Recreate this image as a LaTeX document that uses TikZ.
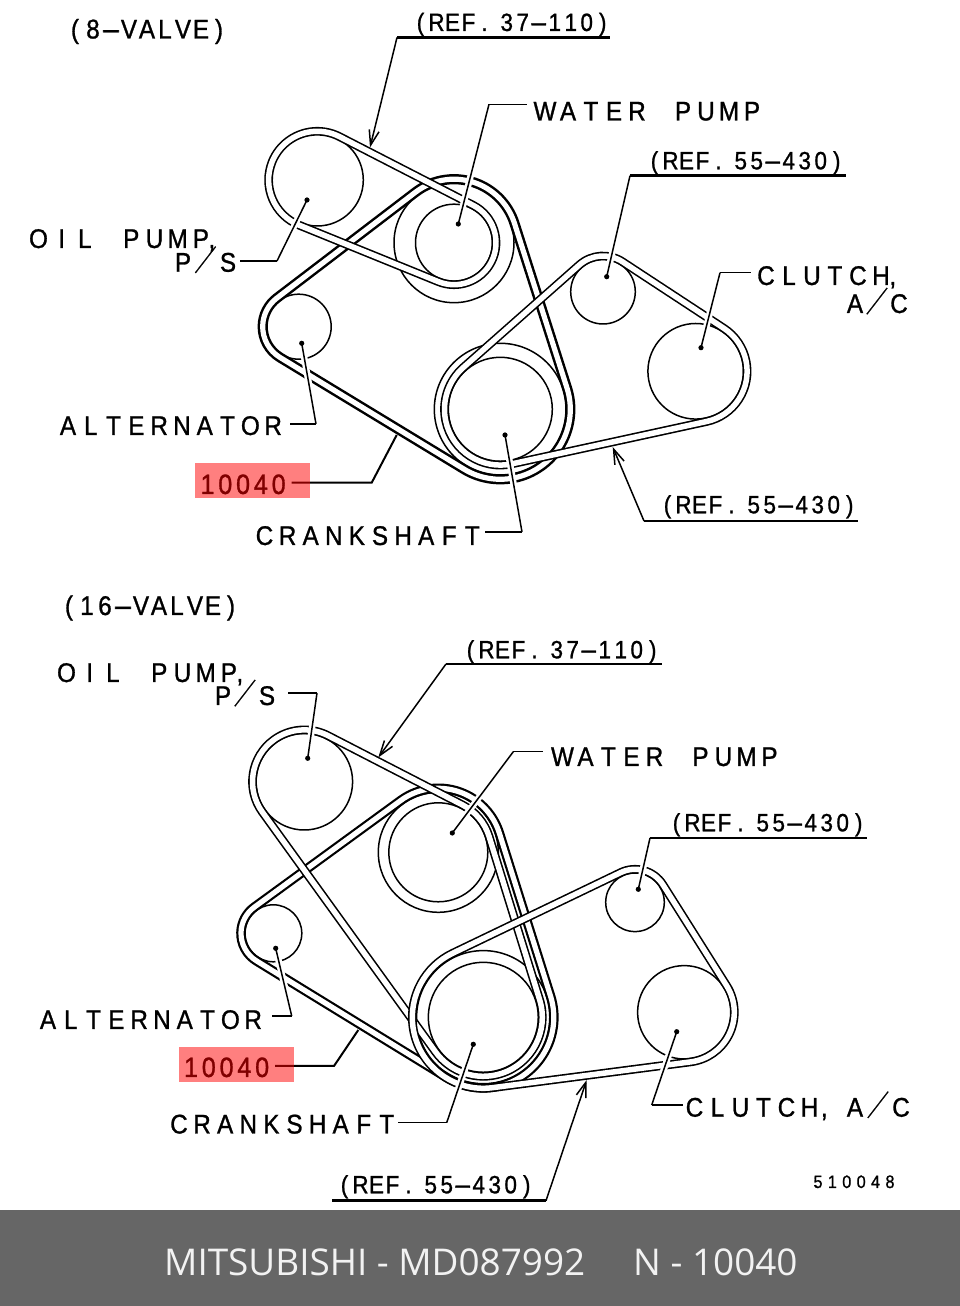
\documentclass[tikz,border=0pt]{standalone}
\usepackage{fontspec}
\setmainfont{Liberation Sans}[FakeStretch=0.9,FakeBold=1]
\newfontfamily\footfont{Open Sans}
\usetikzlibrary{arrows.meta}
\newlength\cellw
\def\mt#1{\mtloop#1\relax}
\def\mtloop#1{\ifx\relax#1\else\makebox[\cellw][c]{#1}\expandafter\mtloop\fi}
\newcommand\wh{\scalebox{2.6}[1]{-}}
\newcommand\sla{\makebox[0pt]{\smash{\raisebox{-4pt}{\rotatebox[origin=c]{-33}{\scalebox{0.55}[1.65]{/}}}}}}
\def\fs#1{\fontsize{#1}{#1}\selectfont}
\newcommand\loadp[2]{\def\tmpp##1,##2,##3;{\expandafter\def\csname px#1\endcsname{##1}\expandafter\def\csname py#1\endcsname{##2}\expandafter\def\csname pr#1\endcsname{##3}}\tmpp#2;}
\newcommand\nang[7]{\pgfmathsetmacro#1{atan2((#3)-(#6),(#5)-(#2))+acos(((#4)-(#7))/veclen((#5)-(#2),(#6)-(#3)))}}
\newcommand\swp[3]{\pgfmathsetmacro#1{mod((#2)-(#3)+720,360)}}
\newcommand\beltb[3]{\loadp{a}{#2}\loadp{b}{#3}%
 \nang\nab\pxa\pya\pra\pxb\pyb\prb \nang\nba\pxb\pyb\prb\pxa\pya\pra
 \swp\sa\nba\nab \swp\sb\nab\nba
 \draw[#1] ({\pxa+\pra*cos(\nba)},{1306-\pya+\pra*sin(\nba)}) arc[start angle=\nba,delta angle=-\sa,radius=\pra pt]
  -- ({\pxb+\prb*cos(\nab)},{1306-\pyb+\prb*sin(\nab)}) arc[start angle=\nab,delta angle=-\sb,radius=\prb pt] -- cycle;}
\newcommand\beltc[4]{\loadp{a}{#2}\loadp{b}{#3}\loadp{c}{#4}%
 \nang\nab\pxa\pya\pra\pxb\pyb\prb \nang\nbc\pxb\pyb\prb\pxc\pyc\prc \nang\nca\pxc\pyc\prc\pxa\pya\pra
 \swp\sa\nca\nab \swp\sb\nab\nbc \swp\sc\nbc\nca
 \draw[#1] ({\pxa+\pra*cos(\nca)},{1306-\pya+\pra*sin(\nca)}) arc[start angle=\nca,delta angle=-\sa,radius=\pra pt]
  -- ({\pxb+\prb*cos(\nab)},{1306-\pyb+\prb*sin(\nab)}) arc[start angle=\nab,delta angle=-\sb,radius=\prb pt]
  -- ({\pxc+\prc*cos(\nbc)},{1306-\pyc+\prc*sin(\nbc)}) arc[start angle=\nbc,delta angle=-\sc,radius=\prc pt] -- cycle;}
\newcommand\lab[5]{\node[lbl] (#1) at ({#2-0.5*#4},#3) {\setlength\cellw{#4pt}#5};}
\tikzset{
 pulley/.style={draw=black,line width=1.5pt},
 thinbelt/.style={draw=black,line width=1.6pt,double=white,double distance=5.5pt,line join=round},
 mainbelt/.style={draw=black,line width=2.5pt,double=white,double distance=5.2pt,line join=round},
 mainbeltb/.style={draw=black,line width=2.2pt,double=white,double distance=5.2pt,line join=round},
 lead/.style={draw=black,line width=1.5pt,preaction={draw=white,line width=6.5pt}},
 plainlead/.style={draw=black,line width=2pt},
 refline/.style={draw=black,line width=2.4pt},
 reflead/.style={draw=black,line width=1.5pt,-{Straight Barb[length=15pt,width=10pt,line width=1.5pt]}},
 lbl/.style={anchor=base west,inner sep=0pt,outer sep=0pt,font=\fs{27}},
 hot/.style={fill=red,fill opacity=0.5,draw=none},
 dotm/.style={fill=black,draw=none}
}
\begin{document}
\begin{tikzpicture}[x=1pt,y=1pt]
\useasboundingbox (0,0) rectangle (960,1306);
\fill[white] (0,0) rectangle (960,1306);
\fill[fill={rgb,255:red,102;green,102;blue,102}] (0,0) rectangle (960,96);
% ---- pulleys, belts
\begin{scope}[shift={(0,1306)},yscale=-1]
 \draw[pulley] (317.3,180) circle[radius=46pt];
 \draw[pulley] (454,242.7) circle[radius=38.5pt];
 \draw[pulley] (454,242.7) circle[radius=60pt];
 \draw[pulley] (298.7,326.7) circle[radius=32.5pt];
 \draw[pulley] (500.3,409.3) circle[radius=52pt];
 \draw[pulley] (500.3,409.3) circle[radius=66pt];
 \draw[pulley] (603,291.7) circle[radius=32.3pt];
 \draw[pulley] (695.7,371.3) circle[radius=47.8pt];
 \draw[pulley] (304.3,781.7) circle[radius=48.3pt];
 \draw[pulley] (438.3,852.3) circle[radius=49.5pt];
 \draw[pulley] (438.3,852.3) circle[radius=60pt];
 \draw[pulley] (273.3,933.3) circle[radius=28.5pt];
 \draw[pulley] (483.3,1017.3) circle[radius=55pt];
 \draw[pulley] (483.3,1017.3) circle[radius=66.7pt];
 \draw[pulley] (635,902.3) circle[radius=29.3pt];
 \draw[pulley] (684.3,1012.3) circle[radius=46.7pt];
\end{scope}
\beltc{mainbelt}{454,242.7,63.5}{500.3,409.3,70}{298.7,326.7,36}
\beltb{thinbelt}{317.3,180,48.7}{454,242.7,42}
\beltc{thinbelt}{500.3,409.3,55.8}{603,291.7,35.7}{695.7,371.3,51.4}
\beltc{mainbeltb}{438.3,852.3,64}{483.3,1017.3,70.5}{273.3,933.3,32.3}
\beltc{thinbelt}{304.3,781.7,51.8}{438.3,852.3,53.2}{483.3,1017.3,59}
\beltc{thinbelt}{483.3,1017.3,71}{635,902.3,33}{684.3,1012.3,50}
\begin{scope}[shift={(0,1306)},yscale=-1]
 % ---- leader coordinates, upper drawing
 \coordinate (d1) at (307,200); \coordinate (e1) at (277,261); \coordinate (f1) at (240,261);
 \coordinate (d2) at (458.3,224); \coordinate (e2) at (489,104.3); \coordinate (f2) at (527,104.3);
 \coordinate (d3) at (606.7,276.7); \coordinate (e3) at (630,175.7); \coordinate (f3) at (846,175.7);
 \coordinate (d4) at (701,347.7); \coordinate (e4) at (720,272.7); \coordinate (f4) at (751,272.7);
 \coordinate (d5) at (301.7,343.3); \coordinate (e5) at (316,424); \coordinate (f5) at (290,424);
 \coordinate (d6) at (505,435); \coordinate (e6) at (522,532); \coordinate (f6) at (485,532);
 \coordinate (t7) at (370,147.5); \coordinate (e7) at (397,37.5); \coordinate (f7) at (610,37.5);
 \coordinate (t8) at (612.7,447); \coordinate (e8) at (644,521); \coordinate (f8) at (858,521);
 \coordinate (t9) at (396.7,435); \coordinate (e9) at (371.7,482.7); \coordinate (f9) at (291.7,482.7);
 % ---- leader coordinates, lower drawing
 \coordinate (d11) at (307.7,758.3); \coordinate (e11) at (317,693); \coordinate (f11) at (288,693);
 \coordinate (d12) at (452.3,833); \coordinate (e12) at (513.3,751.7); \coordinate (f12) at (543.3,751.7);
 \coordinate (d13) at (638.3,889.3); \coordinate (e13) at (650,838); \coordinate (f13) at (867,838);
 \coordinate (d14) at (676.7,1031.7); \coordinate (e14) at (651.7,1105); \coordinate (f14) at (683,1105);
 \coordinate (d15) at (275.7,948.3); \coordinate (e15) at (291.7,1016); \coordinate (f15) at (271.7,1016);
 \coordinate (d16) at (473.3,1044.3); \coordinate (e16) at (446.7,1122.7); \coordinate (f16) at (398.3,1122.7);
 \coordinate (t17) at (378.3,757.5); \coordinate (e17) at (446,664); \coordinate (f17) at (662,664);
 \coordinate (t18) at (586.7,1080); \coordinate (e18) at (546,1200.7); \coordinate (f18) at (332,1200.7);
 \coordinate (t19) at (358.3,1030); \coordinate (e19) at (334,1066); \coordinate (f19) at (275,1066);
 \foreach \n in {1,2,3,4,5,6,11,12,13,14,15,16} {
  \draw[lead] (d\n) -- (e\n);
  \ifnum\n=3 \else\ifnum\n=13 \else\draw[draw=black,line width=1.5pt] (e\n) -- (f\n);\fi\fi
  \fill[dotm] (d\n) circle[radius=2.6pt];
 }
 \draw[refline] (e3) -- (f3);
 \draw[refline] (e13) -- (f13);
 \foreach \n in {7,8,17,18} {
  \draw[reflead] (e\n) -- (t\n);
  \draw[refline] (e\n) -- (f\n);
 }
 \draw[plainlead] (t9) -- (e9) -- (f9);
 \draw[plainlead] (t19) -- (e19) -- (f19);
 % ---- texts, upper drawing
 \lab{a1}{75}{38.5}{18}{\mt{(8\wh VALVE)}}
 \lab{a2}{420.5}{31}{16}{\fs{25}\mt{(REF.} \mt{37\wh110)}}
 \lab{a3}{545}{120.5}{23}{\mt{WATER~PUMP}}
 \lab{a4}{654.5}{169.3}{16}{\fs{25}\mt{(REF.} \mt{55\wh430)}}
 \lab{a5}{38.5}{248}{23.2}{\mt{OIL~PUMP}\kern-4pt,}
 \lab{a6}{183}{271.7}{22.5}{\mt{P\sla S}}
 \lab{a7}{766}{285}{23}{\mt{CLUTCH}\kern-3pt,}
 \lab{a8}{855}{313}{22}{\mt{A\sla C}}
 \lab{a9}{68}{435}{22.8}{\mt{ALTERNATOR}}
 \lab{a10}{207.5}{494}{17.8}{\fs{28}\mt{10040}}
 \lab{a11}{264.5}{545}{23.1}{\mt{CRANKSHAFT}}
 \lab{a12}{667.5}{513.3}{16}{\fs{25}\mt{(REF.} \mt{55\wh430)}}
 % ---- texts, lower drawing
 \lab{b1}{69}{615}{18}{\mt{(16\wh VALVE)}}
 \lab{b2}{66.5}{682}{23.2}{\mt{OIL~PUMP}\kern-4pt,}
 \lab{b3}{223}{705}{22}{\mt{P\sla S}}
 \lab{b4}{470.5}{658.3}{16}{\fs{25}\mt{(REF.} \mt{37\wh110)}}
 \lab{b5}{562.5}{766}{23}{\mt{WATER~PUMP}}
 \lab{b6}{676.5}{831.3}{16}{\fs{25}\mt{(REF.} \mt{55\wh430)}}
 \lab{b7}{48}{1029}{22.8}{\mt{ALTERNATOR}}
 \lab{b8}{191}{1077}{17.8}{\fs{28}\mt{10040}}
 \lab{b9}{179}{1133.5}{23.1}{\mt{CRANKSHAFT}}
 \lab{b10}{694.5}{1116.7}{23}{\mt{CLUTCH}, \kern9pt\mt{A\sla C}}
 \lab{b11}{344.5}{1193.3}{16}{\fs{25}\mt{(REF.} \mt{55\wh430)}}
 \lab{b12}{818}{1188}{14.4}{\fs{18}\mt{510048}}
 % ---- highlights
 \fill[hot] (195,463) rectangle (310,498);
 \fill[hot] (179,1047) rectangle (294,1082);
 % ---- footer
 \node[anchor=base west,inner sep=0pt,text=white!95!black,font=\footfont\fs{36.9}] (c1) at (164,1276) {MITSUBISHI - MD087992};
 \node[anchor=base west,inner sep=0pt,text=white!95!black,font=\footfont\fs{36.9}] (c2) at (633,1276) {N - 10040};
\end{scope}
\end{tikzpicture}
\end{document}
